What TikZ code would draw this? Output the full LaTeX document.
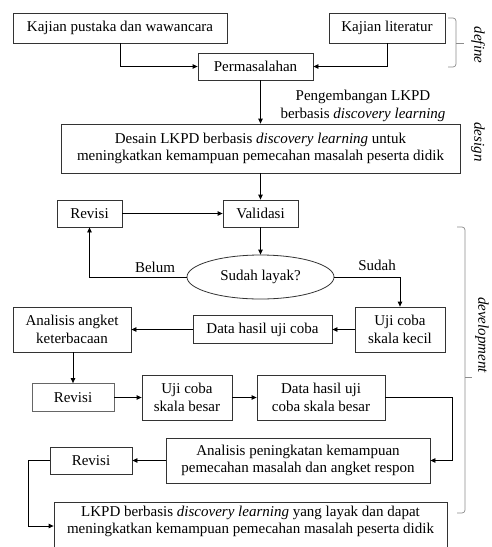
\documentclass[tikz,border=0pt]{standalone}
\usepackage{fontspec}
\setmainfont{Liberation Serif}
\usetikzlibrary{arrows.meta,shapes.geometric}

\tikzset{
  kotak/.style={draw=black!80, line width=0.8pt, align=center, inner sep=1pt},
  panah/.style={-{Triangle[length=5pt,width=4.5pt]}, line width=0.8pt},
  kurung/.style={draw=black!45, line width=0.7pt, rounded corners=3pt},
  tahap/.style={rotate=-90, font=\fontsize{15}{17}\selectfont\itshape}
}

\begin{document}
\begin{tikzpicture}[x=1pt,y=-1pt,font=\fontsize{15}{17.5}\selectfont]
\useasboundingbox (0,0) rectangle (491,547);
% define
\node[kotak, minimum width=214pt, minimum height=30pt] (pustaka) at (120,28) {Kajian pustaka dan wawancara};
\node[kotak, minimum width=116pt, minimum height=30pt] (literatur) at (387,28) {Kajian literatur};
\node[kotak, minimum width=115pt, minimum height=27pt] (masalah) at (255.5,66.5) {Permasalahan};
\draw[panah] (pustaka.south) |- (masalah.west);
\draw[panah] (literatur.south) |- (masalah.east);
% design
\node[kotak, minimum width=399pt, minimum height=49pt] (desain) at (260.5,148.5)
  {Desain LKPD berbasis \textit{discovery learning} untuk\\meningkatkan kemampuan pemecahan masalah peserta didik};
\draw[panah] (desain.north |- masalah.south) -- (desain.north);
\node[align=center] (ket) at (363,106) {Pengembangan LKPD\\berbasis \textit{discovery learning}};
% development
\node[kotak, minimum width=65pt, minimum height=27pt] (revisiA) at (89.5,213.5) {Revisi};
\node[kotak, minimum width=75pt, minimum height=27pt] (validasi) at (260.5,213.5) {Validasi};
\node[draw=black!80, line width=0.8pt, ellipse, inner sep=0pt, minimum width=147pt, minimum height=44pt] (layak) at (260.5,277) {Sudah layak?};
\draw[panah] (desain) -- (validasi);
\draw[panah] (revisiA) -- (validasi);
\draw[panah] (validasi) -- (layak);
\node[kotak, minimum width=90pt, minimum height=45pt] (kecil) at (400,329.5) {Uji coba\\skala kecil};
\node[kotak, minimum width=139pt, minimum height=28pt] (datauji) at (262.5,329.5) {Data hasil uji coba};
\node[kotak, minimum width=118pt, minimum height=45pt] (angket) at (72,329.5) {Analisis angket\\keterbacaan};
\draw[panah] (layak.west) -| (revisiA.south);
\node (belum) at (155,267) {Belum};
\draw[panah] (layak.east) -| (kecil.north);
\node (sudah) at (377,265) {Sudah};
\draw[panah] (kecil) -- (datauji);
\draw[panah] (datauji) -- (angket);
\node[kotak, draw=black!60, minimum width=82pt, minimum height=28pt] (revisiB) at (73,397.5) {Revisi};
\node[kotak, minimum width=90pt, minimum height=45pt] (besar) at (187,397.5) {Uji coba\\skala besar};
\node[kotak, minimum width=128pt, minimum height=45pt] (databesar) at (321,397.5) {Data hasil uji\\coba skala besar};
\draw[panah] (angket.south -| revisiB.north) -- (revisiB.north);
\draw[panah] (revisiB) -- (besar);
\draw[panah] (besar) -- (databesar);
\node[kotak, minimum width=264pt, minimum height=45pt] (peningkatan) at (298,460.5)
  {Analisis peningkatan kemampuan\\pemecahan masalah dan angket respon};
\node[kotak, minimum width=82pt, minimum height=27pt] (revisiC) at (91,460.5) {Revisi};
\coordinate (sisikanan) at (452,460.5);
\coordinate (sisikiri) at (28,460.5);
\draw[panah] (databesar.east) -| (sisikanan) -- (peningkatan.east);
\draw[panah] (peningkatan) -- (revisiC);
\node[kotak, minimum width=393pt, minimum height=47pt] (akhir) at (250.5,526)
  {LKPD berbasis \textit{discovery learning} yang layak dan dapat\\meningkatkan kemampuan pemecahan masalah peserta didik\rule[-12pt]{0pt}{0pt}};
\draw[panah] (revisiC.west) -- (sisikiri) |- (akhir.west);
% tahapan
\draw[kurung] (448,18) -| (456,67) -- (448,67);
\draw[kurung] (456,43) -- (464,43);
\node[tahap] (define) at (478,45) {define};
\node[tahap] (design) at (478,142) {design};
\draw[kurung] (457,227) -| (465,513) -- (457,513);
\draw[kurung] (465,377) -- (472,377);
\node[tahap] (develop) at (482,335) {development};
\end{tikzpicture}
\end{document}
